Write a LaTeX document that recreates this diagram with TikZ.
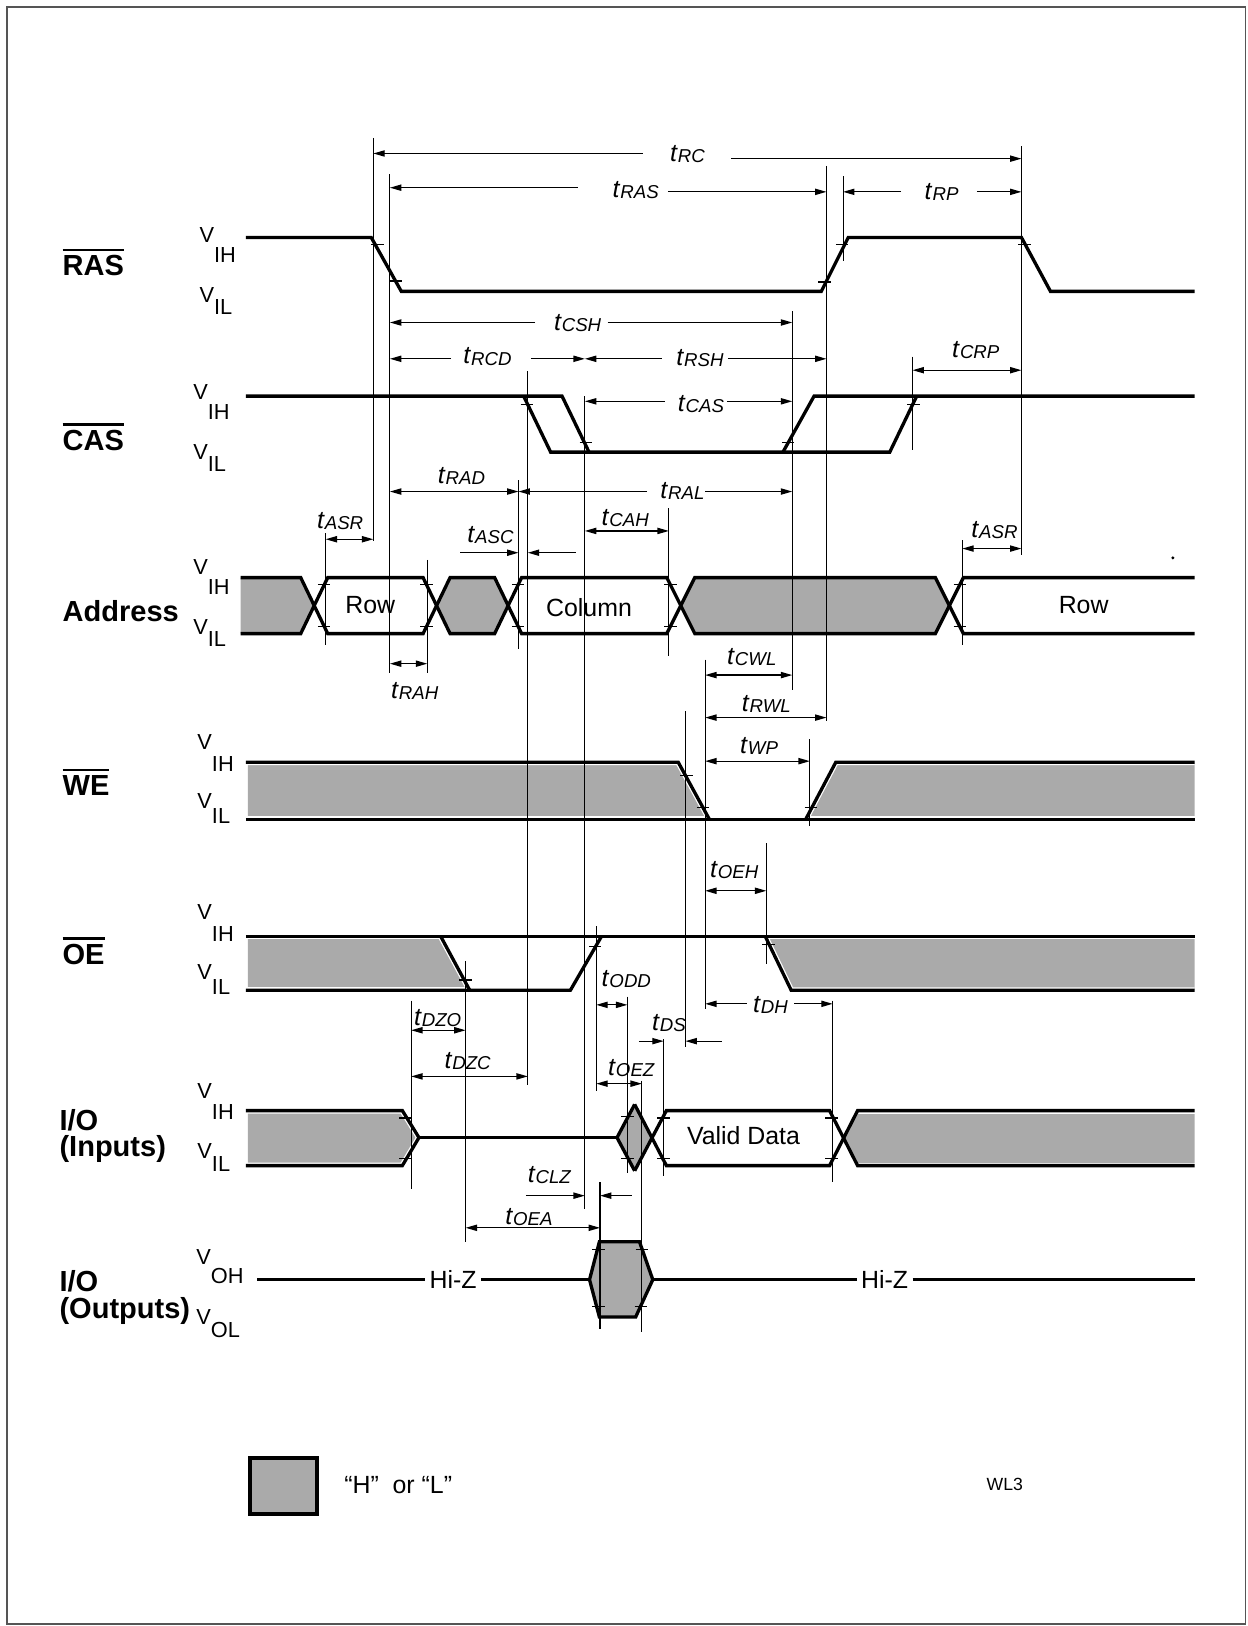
\documentclass[tikz,border=0pt]{standalone}
\usepackage{fontspec}
\setmainfont{Liberation Sans}
\usetikzlibrary{arrows.meta}
\definecolor{HLGray}{HTML}{AAAAAA}
\definecolor{FrameGray}{HTML}{555555}
\newcommand{\tsym}[1]{\textit{t}\raisebox{-0.5pt}{\fontsize{9}{10}\selectfont\textit{#1}}}
\newcommand{\vlev}[2]{V\raisebox{-#2}{#1}}
\newcommand{\ovl}[1]{\sbox0{#1}\rlap{\rule[\dimexpr\ht0+2pt\relax]{\wd0}{1.3pt}}\usebox0}

\begin{document}
\begin{tikzpicture}[x=0.5pt, y=-0.5pt,
  sig/.style={line width=1.6pt, line join=miter},
  halo/.style={white, line width=2.8pt},
  refl/.style={line width=0.5pt},
  tk/.style={line width=0.6pt},
  arr/.style={-{Triangle[length=5.5pt,width=3pt]}, line width=0.6pt},
  dbl/.style={{Triangle[length=5.5pt,width=3pt]}-{Triangle[length=5.5pt,width=3pt]}, line width=0.6pt},
  tlab/.style={anchor=base, inner sep=0pt, font=\fontsize{12}{14}\selectfont},
  vlab/.style={anchor=base west, inner sep=0pt, font=\fontsize{10.5}{12}\selectfont},
  sname/.style={anchor=base west, inner sep=0pt, font=\fontsize{14}{16}\selectfont\bfseries},
  txt/.style={inner sep=2pt, font=\fontsize{12}{14}\selectfont},
]
\useasboundingbox (0,0) rectangle (1203,1568);
\draw[FrameGray, line width=0.8pt] (7,7) rectangle (1201,1566);

% signal names
\node[sname] (ras)  at (60,266)  {\ovl{RAS}};
\node[sname] (cas)  at (60,434)  {\ovl{CAS}};
\node[sname] (addr) at (60,599)  {Address};
\node[sname] (we)   at (60,767)  {\ovl{WE}};
\node[sname] (oe)   at (60,930)  {\ovl{OE}};
\node[sname] (ioi)  at (57,1090) {I/O};
\node[sname] (ioi2) at (57,1115) {(Inputs)};
\node[sname] (ioo)  at (57,1245) {I/O};
\node[sname] (ioo2) at (57,1271) {(Outputs)};

% levels
\node[vlab] (rasH) at (192,234)  {\vlev{IH}{9.5pt}};
\node[vlab] (rasL) at (192,292)  {\vlev{IL}{5.5pt}};
\node[vlab] (casH) at (186,385)  {\vlev{IH}{10pt}};
\node[vlab] (casL) at (186,443)  {\vlev{IL}{6pt}};
\node[vlab] (adH)  at (186,554)  {\vlev{IH}{9.5pt}};
\node[vlab] (adL)  at (186,612)  {\vlev{IL}{5.5pt}};
\node[vlab] (weH)  at (190,723)  {\vlev{IH}{10.5pt}};
\node[vlab] (weL)  at (190,780)  {\vlev{IL}{7pt}};
\node[vlab] (oeH)  at (190,887)  {\vlev{IH}{10.5pt}};
\node[vlab] (oeL)  at (190,945)  {\vlev{IL}{7pt}};
\node[vlab] (ioH)  at (190,1059) {\vlev{IH}{10.5pt}};
\node[vlab] (ioL)  at (190,1117) {\vlev{IL}{6.5pt}};
\node[vlab] (ooH)  at (189,1219) {\vlev{OH}{9.5pt}};
\node[vlab] (ooL)  at (189,1277) {\vlev{OL}{6.5pt}};

% gray fills
\fill[HLGray] (232,557) -- (290,557) -- (303,584) -- (290,611) -- (232,611) -- cycle;
\fill[HLGray] (421,584) -- (434,557) -- (477,557) -- (490,584) -- (477,611) -- (434,611) -- cycle;
\fill[HLGray] (656.5,584) -- (670,557) -- (902,557) -- (915.5,584) -- (902,611) -- (670,611) -- cycle;
\fill[HLGray] (239,735) -- (654,735) -- (684,790) -- (239,790) -- cycle;
\fill[HLGray] (777,790) -- (806,735) -- (1152,735) -- (1152,790) -- cycle;
\fill[HLGray] (239,903) -- (425,903) -- (453,955) -- (239,955) -- cycle;
\fill[HLGray] (738,903) -- (1152,903) -- (1152,955) -- (763,955) -- cycle;
\fill[HLGray] (239,1071) -- (388,1071) -- (404,1097) -- (388,1124) -- (239,1124) -- cycle;
\fill[HLGray] (595,1097) -- (612,1065) -- (628.7,1097) -- (612,1129) -- cycle;
\fill[HLGray] (813.5,1097) -- (827,1071) -- (1152,1071) -- (1152,1124) -- (827,1124) -- cycle;
\draw[halo] (237,735) -- (654,735) -- (684,790);
\draw[halo] (237,790) -- (1152,790);
\draw[halo] (777,790) -- (806,735) -- (1152,735);
\draw[halo] (237,903) -- (1152,903);
\draw[halo] (425,903) -- (453,955);
\draw[halo] (237,955) -- (453,955);
\draw[halo] (738,903) -- (763,955) -- (1152,955);
\draw[halo] (237,1071) -- (388,1071) -- (404,1097) -- (388,1124) -- (237,1124);
\draw[halo] (827,1071) -- (1152,1071);
\draw[halo] (827,1124) -- (1152,1124);

% waveforms
\draw[sig] (237,229) -- (358,229) -- (387,281) -- (792,281) -- (818,229) -- (985,229) -- (1013,281) -- (1152,281);
\draw[sig] (237,382) -- (542,382) -- (568,436);
\draw[sig] (505,382) -- (531,436) -- (858,436) -- (884,382);
\draw[sig] (755,436) -- (785,382) -- (1152,382);
\draw[sig] (232,557) -- (290,557) -- (316,611) -- (408,611) -- (434,557) -- (477,557) -- (503,611) -- (643,611) -- (670,557) -- (902,557) -- (929,611) -- (1152,611);
\draw[sig] (232,611) -- (290,611) -- (316,557) -- (408,557) -- (434,611) -- (477,611) -- (503,557) -- (643,557) -- (670,611) -- (902,611) -- (929,557) -- (1152,557);
\draw[sig] (237,735) -- (654,735) -- (684,790);
\draw[sig] (237,790) -- (1152,790);
\draw[sig] (777,790) -- (806,735) -- (1152,735);
\draw[sig] (237,903) -- (1152,903);
\draw[sig] (425,903) -- (453,955);
\draw[sig] (237,955) -- (550,955) -- (580,903);
\draw[sig] (738,903) -- (763,955) -- (1152,955);
\draw[sig] (237,1071) -- (388,1071) -- (404,1097) -- (388,1124) -- (237,1124);
\draw[sig] (404,1097) -- (595,1097);
\draw[sig] (612,1065) -- (595,1097) -- (612,1129);
\draw[sig] (612,1065) -- (642.6,1124) -- (800,1124) -- (827,1071) -- (1152,1071);
\draw[sig] (612,1129) -- (642.6,1071) -- (800,1071) -- (827,1124) -- (1152,1124);
\node[txt] (hz1) at (437,1234) {Hi-Z};
\node[txt] (hz2) at (853,1234) {Hi-Z};
\draw[sig, fill=HLGray] (568.5,1234) -- (578,1197.5) -- (616.7,1197.5) -- (629.5,1234) -- (613,1270) -- (578,1270) -- cycle;
\draw[sig] (248,1234) -- (hz1) -- (568.5,1234);
\draw[sig] (629.5,1234) -- (hz2) -- (1152,1234);

\node[txt] (row1) at (357,583) {Row};
\node[txt] (col)  at (568,586) {Column};
\node[txt] (row2) at (1045,583) {Row};
\node[txt] (vd)   at (717,1095) {Valid Data};

% reference lines
\foreach \x/\ya/\yb in {360/133/522, 376/168/649, 797/160/695, 813/170/252, 985/141/535,
    764/300/665, 880/344/434, 509/358/1046, 500/463/626, 564/382/1166, 314/514/622,
    412/540/649, 645/490/633, 928/521/622, 680/636/973, 661/686/1010, 781/713/797,
    739/813/930, 449/927/1198, 575/893/1052, 605/961/1131, 396.5/965/1147,
    640/1002/1134, 803/965/1140, 619/1042/1284, 578.6/1140/1282}
  \draw[refl] (\x,\ya) -- (\x,\yb);

% ticks
\foreach \x/\y in {364/236, 382/271, 795/272, 812/236, 988/236,
    508/390, 565/427, 760/427, 881/390,
    312.6/564, 312.6/604, 411.4/564, 411.4/604, 499.6/564, 499.6/604,
    646.5/564, 646.5/604, 925.5/564, 925.5/604,
    662/748, 678/779, 782/779, 449/945, 574/913, 741/911,
    391/1078, 391/1117, 605/1077, 605/1117, 640/1078, 640/1117, 802/1078, 802/1117,
    577/1205, 619/1205, 577/1260, 618/1260}
  \draw[tk] (\x,\y) +(-6,0) -- +(6,0);

% timing arrows
\draw[arr] (620,148) -- (360,148);
\draw[arr] (705,153) -- (985,153);
\draw[arr] (557,181) -- (376,181);
\draw[arr] (644,185) -- (797,185);
\draw[arr] (869,185) -- (813,185);
\draw[arr] (942,185) -- (985,185);
\draw[arr] (516,311) -- (376,311);
\draw[arr] (586,311) -- (764,311);
\draw[arr] (435,346) -- (376,346);
\draw[arr] (512,346) -- (564,346);
\draw[arr] (638,346) -- (564,346);
\draw[arr] (702,346) -- (797,346);
\draw[dbl] (880,357) -- (985,357);
\draw[arr] (641,387) -- (564,387);
\draw[arr] (701,387) -- (764,387);
\draw[dbl] (376,474) -- (500,474);
\draw[arr] (624,474) -- (500,474);
\draw[arr] (680,474) -- (764,474);
\draw[dbl] (314,520) -- (360,520);
\draw[arr] (444,533) -- (500,533);
\draw[arr] (555,533) -- (509,533);
\draw[dbl] (564,512) -- (645,512);
\draw[dbl] (376,640) -- (412,640);
\draw[dbl] (928,529) -- (985,529);
\draw[dbl] (680,651) -- (764,651);
\draw[dbl] (680,692) -- (797,692);
\draw[dbl] (680,734) -- (781,734);
\draw[dbl] (680,859) -- (739,859);
\draw[dbl] (575,969) -- (605,969);
\draw[arr] (720,968) -- (680,968);
\draw[arr] (766,968) -- (803,968);
\draw[arr] (616,1004) -- (640,1004);
\draw[arr] (696,1004) -- (661,1004);
\draw[dbl] (396.5,993.5) -- (449,993.5);
\draw[dbl] (396.5,1038) -- (509,1038);
\draw[dbl] (575,1045) -- (619,1045);
\draw[arr] (507,1153) -- (564,1153);
\draw[arr] (609,1153) -- (578.6,1153);
\draw[dbl] (449,1184) -- (578.6,1184);

% timing labels
\foreach \n/\s/\x/\y in {RC/RC/663/156, RAS/RAS/613/190, RP/RP/908/192, CSH/CSH/557/319,
    RCD/RCD/470/351, RSH/RSH/675/352, CRP/CRP/941/345, CAS/CAS/676/397,
    RAD/RAD/445/466, RAL/RAL/658/481, ASR/ASR/328/510, CAH/CAH/603/507,
    ASC/ASC/473/523, RAH/RAH/400/674, ASRb/ASR/959/518, CWL/CWL/725/641,
    RWL/RWL/739/686, WP/WP/732/727, OEH/OEH/708/846, ODD/ODD/604/951,
    DH/DH/743/976, DS/DS/645/994, DZO/DZO/422/989, DZC/DZC/451/1030,
    OEZ/OEZ/609/1037, CLZ/CLZ/530/1140, OEA/OEA/510/1181}
  \node[tlab] (t\n) at (\x,\y) {\tsym{\s}};

\fill (1131,538) circle (0.8pt);

% legend
\draw[line width=2pt, fill=HLGray] (241,1406) rectangle (306,1460);
\node[txt] (key) at (384,1432) {“H”\ \ or “L”};
\node[txt, font=\fontsize{8.5}{10}\selectfont] (fig) at (969,1431) {WL3};
\end{tikzpicture}
\end{document}
